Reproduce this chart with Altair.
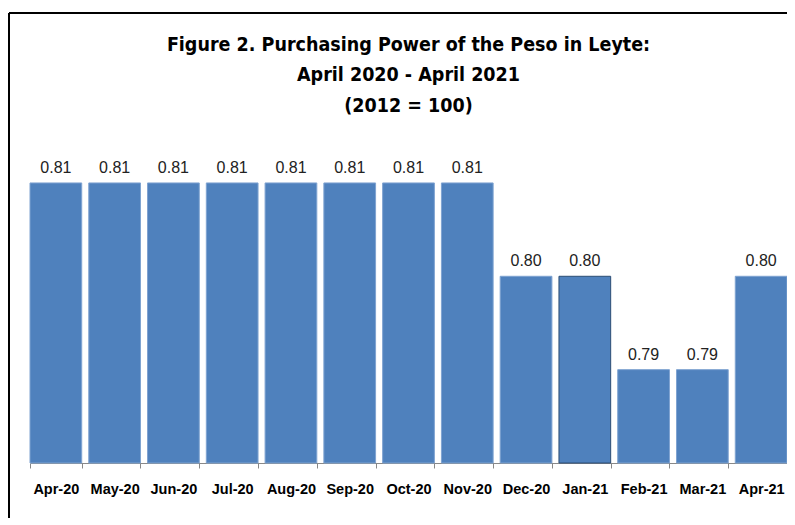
import altair as alt
import pandas as pd

months = ["Apr-20", "May-20", "Jun-20", "Jul-20", "Aug-20", "Sep-20", "Oct-20",
          "Nov-20", "Dec-20", "Jan-21", "Feb-21", "Mar-21", "Apr-21"]
values = [0.81, 0.81, 0.81, 0.81, 0.81, 0.81, 0.81, 0.81, 0.80, 0.80, 0.79, 0.79, 0.80]
labels = ["0.81", "0.81", "0.81", "0.81", "0.81", "0.81", "0.81", "0.81",
          "0.80", "0.80", "0.79", "0.79", "0.80"]
highlight = [m == "Jan-21" for m in months]

df = pd.DataFrame({"month": months, "value": values, "label": labels, "hl": highlight})

W, H = 757, 323
TFONT = "DejaVu Sans Condensed, Liberation Sans, sans-serif"
FONT = "Liberation Sans, sans-serif"

x = alt.X("month:N", sort=months, title=None,
          scale=alt.Scale(paddingInner=0.12, paddingOuter=0.0),
          axis=alt.Axis(labelAngle=0, labelFont=FONT, labelFontWeight="bold",
                        labelFontSize=14.5, labelColor="#000000", labelPadding=14,
                        tickBand="extent", tickColor="#888888", tickSize=5,
                        domainColor="#888888", domainWidth=1))
y = alt.Y("value:Q", title=None,
          scale=alt.Scale(domain=[0.78, 0.8146], zero=False, nice=False, clamp=True),
          axis=None)

bars = alt.Chart(df).mark_bar(color="#4F81BD").encode(
    x=x, y=y,
    stroke=alt.condition("datum.hl", alt.value("#2C4D75"), alt.value("#7FA3D1")),
    strokeWidth=alt.value(1),
)

text = alt.Chart(df).mark_text(baseline="bottom", dy=-7, fontSize=16,
                               font=FONT, color="#222222").encode(
    x=alt.X("month:N", sort=months), y=y, text="label:N")

left_line = alt.Chart(df).mark_rule(color="#000000", strokeWidth=2).encode(
    x=alt.value(-21), y=alt.value(-127), y2=alt.value(400))
top_line = alt.Chart(df).mark_rule(color="#000000", strokeWidth=2).encode(
    x=alt.value(-21), x2=alt.value(800), y=alt.value(-127))

chart = alt.layer(left_line, top_line, bars, text).properties(
    width=W, height=H,
    title=alt.TitleParams(
        ["Figure 2. Purchasing Power of the Peso in Leyte:",
         "April 2020 - April 2021", "(2012 = 100)"],
        font=TFONT, fontSize=19.5, fontWeight="bold", color="#000000",
        anchor="middle", lineHeight=30.5, offset=0, dy=104),
    autosize=alt.AutoSizeParams(type="none"),
    padding={"left": 22, "top": 132, "right": 0, "bottom": 55},
).configure(background="white").configure_view(stroke=None)

chart.save("out.html", embed_options={"renderer": "svg", "actions": False})
